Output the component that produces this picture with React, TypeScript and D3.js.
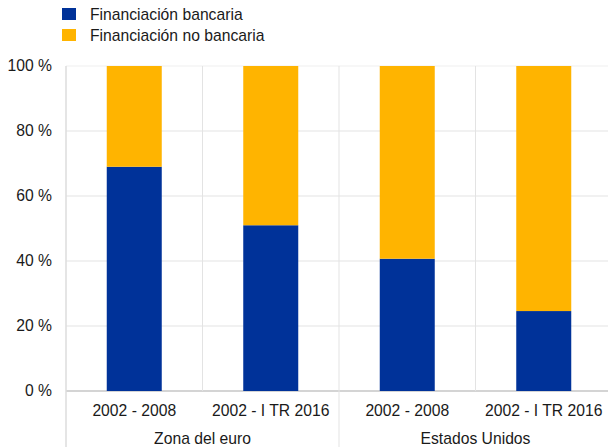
import React from "react";
import * as d3 from "d3";

const categories = ["2002 - 2008", "2002 - I TR 2016", "2002 - 2008", "2002 - I TR 2016"];
const groups = ["Zona del euro", "Estados Unidos"];
const bankValues = [69, 51, 40.7, 24.6];
const nonBankValues = bankValues.map((v) => 100 - v);
const seriesNames = ["Financiación bancaria", "Financiación no bancaria"];
const seriesColors = ["#003299", "#FFB400"];
const yTicks = [0, 20, 40, 60, 80, 100];

const W = 608;
const H = 447;
const left = 66;
const right = 612;
const top = 66;
const bottom = 391;

export default function App() {
  const x = d3.scaleBand<number>().domain(d3.range(categories.length)).range([left, right]).paddingInner(0).paddingOuter(0);
  const y = d3.scaleLinear().domain([0, 100]).range([bottom, top]);
  const bw = 55;
  const font = "'Liberation Sans', Arial, sans-serif";
  const fs = 15.7;
  const grid = "#e3e3e3";
  const stack = d3.stack<number>().keys(["b", "n"]).value((i, k) => (k === "b" ? bankValues[i] : nonBankValues[i]));
  const layers = stack(d3.range(categories.length));

  return (
    <svg width={W} height={H} style={{ position: "absolute", left: 0, top: 0 }} fontFamily={font}>
      {/* legend */}
      {seriesNames.map((n, i) => (
        <g key={n}>
          <rect x={62} y={8 + i * 21} width={14} height={12} fill={seriesColors[i]} />
          <text x={90} y={19.5 + i * 21} fontSize={fs} fill="#1a1a1a">{n}</text>
        </g>
      ))}
      {/* horizontal gridlines */}
      {yTicks.map((t) => (
        <line key={t} x1={left} x2={W} y1={y(t)} y2={y(t)} stroke={t === 0 ? "#d4d4d4" : t === 100 ? "#efefef" : grid} strokeWidth={t === 0 ? 2 : 1} />
      ))}
      {/* vertical band lines */}
      {d3.range(1, categories.length).map((i) => (
        <line key={i} x1={x(i)!} x2={x(i)!} y1={top} y2={i === 2 ? H : bottom} stroke={grid} strokeWidth={1} />
      ))}
      <line x1={left} x2={left} y1={top} y2={H} stroke="#dcdcdc" strokeWidth={1.5} />
      {/* bars */}
      {layers.map((layer, li) =>
        layer.map((d, i) => (
          <rect
            key={li + "-" + i}
            x={x(i)! + x.bandwidth() / 2 - bw / 2}
            width={bw}
            y={y(d[1])}
            height={y(d[0]) - y(d[1])}
            fill={seriesColors[li]}
          />
        ))
      )}
      {/* y tick labels */}
      {yTicks.map((t) => (
        <text key={t} x={52} y={y(t)} dy="0.35em" textAnchor="end" fontSize={fs} fill="#1a1a1a">
          {t} %
        </text>
      ))}
      {/* x labels */}
      {categories.map((c, i) => (
        <text key={i} x={x(i)! + x.bandwidth() / 2} y={415.5} textAnchor="middle" fontSize={fs} fill="#1a1a1a">
          {c}
        </text>
      ))}
      {groups.map((g, gi) => (
        <text key={g} x={(x(gi * 2)! + x(gi * 2 + 1)! + x.bandwidth()) / 2} y={443.5} textAnchor="middle" fontSize={fs} fill="#1a1a1a">
          {g}
        </text>
      ))}
    </svg>
  );
}
